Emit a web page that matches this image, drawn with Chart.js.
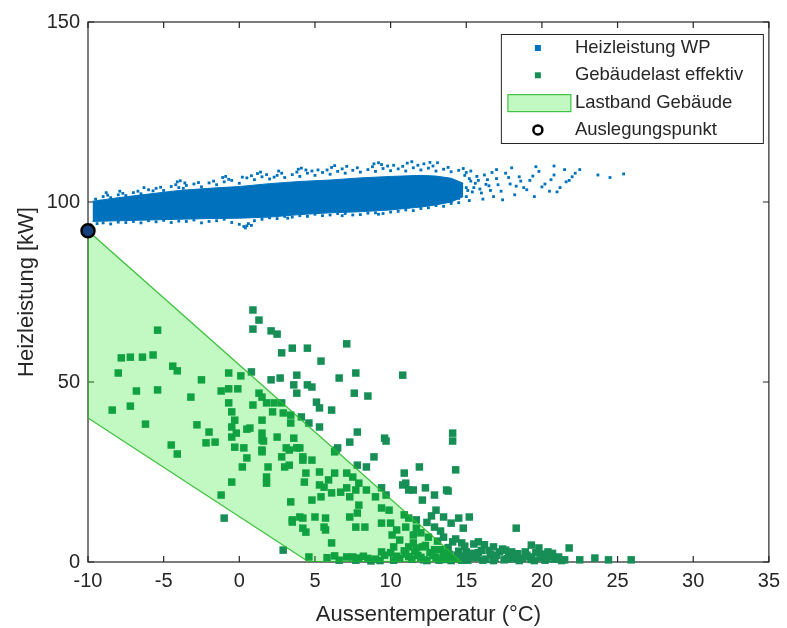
<!DOCTYPE html>
<html>
<head>
<meta charset="utf-8">
<script src="https://cdn.jsdelivr.net/npm/chart.js@4.4.1/dist/chart.umd.min.js"></script>
<style>
  html, body { margin: 0; padding: 0; background: #fff; }
  canvas { display: block; }
</style>
</head>
<body>
<canvas id="heizChart" width="787" height="628"></canvas>
<script>
// Achsen
const xTicks = [-10, -5, 0, 5, 10, 15, 20, 25, 30, 35];
const yTicks = [0, 50, 100, 150];

// Auslegungspunkt der Waermepumpe
const auslegungX = [-10];
const auslegungY = [92];

// Lastband Gebaeude (geschlossenes Polygon)
const lastbandX = [-10, 14.7, 4.6, -10, -10];
const lastbandY = [92, 0, 0, 40, 92];

// Heizleistung WP: dichter Kern als Huellkurve
const heizKernX     = [-9.7, -8, -6, -4, -2, 0, 2, 4, 6, 8, 10, 12, 13, 14, 14.8];
const heizKernOben  = [100.2, 101.2, 102.2, 103.2, 103.8, 104.3, 105.1, 105.7, 106.1, 106.7, 107.1, 107.4, 107.2, 106.6, 105.2];
const heizKernUnten = [94.6, 94.8, 95, 95.2, 95.4, 95.5, 95.8, 96.5, 97, 97.3, 97.8, 98.6, 99.2, 100, 101.5];

// Heizleistung WP: Einzelpunkte am Rand und im Auslauf
const heizPunkte = [
  [-9.5,100.8],[-9,101.5],[-8.5,101.2],[-8,102],[-7.5,101.8],[-7,102.6],[-6.5,102.3],[-6,103.4],
  [-5.5,103.8],[-5,103.2],[-4.5,104.3],[-4,104],[-3.5,104.6],[-3,105],[-2.5,104.2],[-2,105.3],
  [-1.5,104.8],[-1,105.6],[-0.5,106],[0,105.2],[0.5,106.7],[1,106.2],[1.5,107],[2,106.4],
  [2.5,107.4],[3,106.8],[3.5,107.6],[4,107.1],[4.5,108],[5,107.4],[5.5,108.2],[6,107.7],
  [6.5,108.5],[7,108],[7.5,108.8],[8,108.3],[8.5,109],[9,108.5],[9.5,109.3],[10,108.7],
  [10.5,109.2],[11,108.6],[11.5,109.5],[12,108.9],[12.5,109.4],[13,108.6],[13.5,109.1],[14,108.4],
  [14.5,108.8],[15,108.2],
  [-9.2,100.2],[-8.7,101.9],[-7.7,102.4],[-6.7,103],[-5.7,103.1],
  [-5.2,104.1],[-4.2,104.8],[-3.7,103.8],[-2.7,105.4],[-1.7,105.8],
  [-0.7,106.3],[0.8,107.3],[1.8,107.6],[2.3,106.9],
  [2.8,108],[3.8,108.3],[4.8,108.6],[5.8,108.9],
  [6.8,109.2],[7.8,109.5],[8.8,109.8],[9.8,110],
  [10.8,109.9],[11.8,110.2],[12.8,110],[13.8,109.6],
  [14.8,109.3],[15.3,108.6],
  [-4.1,105.6],[-3.9,105.9],[-3.6,105.3],[-1.1,106.8],[-0.9,107.1],[1.2,107.9],[1.4,108.3],
  [3.9,109.1],[4.1,109.4],[4.4,108.9],[6.1,109.6],[6.3,110.1],[8.9,110.6],[9.2,110.9],[9.4,110.4],
  [11.1,110.8],[11.4,111.2],[12.2,110.6],[13.1,110.9],[7.1,109.9],[2.6,108.6],[-6.3,104],[-7.9,103],
  [-8.8,102.6],[0.2,106.9],[5.2,108.9],[10.2,110.2],[12.6,111],
  [-9.8,93.6],[-9,94.2],[-8,94.4],[-7,94.6],[-6,94.8],[-5,94.9],[-4,94.7],[-3,95.0],[-2,94.6],
  [-1,95.2],[0,93.8],[0.3,93.2],[0.6,94.0],[1,94.8],[2,95.6],[3,96.0],[4,96.2],[5,96.6],[6,96.4],
  [7,96.8],[8,96.5],[9,97.0],[10,97.2],[11,97.8],[12,98.2],[13,99],[14,99.6],
  [-9.4,94],[-8.5,93.9],[-7.5,94.3],[-6.5,94.2],[-5.5,94.5],[-4.5,94.3],[-3.5,94.6],[-2.5,94.2],
  [-1.5,94.8],[-0.5,94.3],[0.8,93.5],[1.5,95.2],[2.5,95.4],[3.5,95.8],[4.5,96],[5.5,96.2],
  [6.5,96.8],[7.5,96.4],[8.5,96.9],[9.5,96.8],[10.5,97.4],[11.5,97.6],[12.5,98.4],[13.5,98.8],
  [14.5,99.8],[15.2,100.4],[0.4,92.8],[0.5,93.4],[3.2,95.5],[6.8,96.2],[9.2,96.6],
  [10.5,99.5],[11,99],[11.5,99.8],[12,99.4],[12.5,100],[13,99.6],[13.5,100.4],[14,100.2],[14.5,101],[15,101.5],
  [13.8,103],[14.2,105],[14.6,102.2],[15,104],[15.2,106.5],[15.4,102.8],[15.6,105.2],[15.9,103.6],
  [16.1,100.8],[16.4,106.2],[16.6,103.2],[17.1,104.8],[17.4,100.6],[17.8,106.8],[18.3,104.4],[18.6,105.8],
  [19,103.4],[19.4,107.2],[20,104.2],[20.6,106.2],[21,102.8],[21.6,105.6],[22,107],[17,109],
  [18,109.5],[19.6,109.8],[20.8,110],[22.5,109],
  [14.9,107.4],[15.1,103.2],[15.3,105.8],[14.7,104.1],[15.7,107.1],[16.3,104.9],[16.7,108.2],
  [15.5,104],[15.8,106],[16,102.5],[16.2,107.5],[16.5,104.5],[16.8,101.5],[17,106.5],[17.3,103],
  [17.6,108],[17.9,105],[18.2,102],[18.5,107],[18.8,104],[19.2,106],[19.5,101.5],[19.8,108.5],
  [20.2,105],[20.5,103],[20.8,107.5],[21.2,104],[21.5,109],[21.8,106],[22.2,108],[23.7,107.5],
  [24.5,106.8],[25.4,107.8]
];

// Gebaeudelast effektiv (Stundenwerte)
const gebaeudelast = [
  [-5.4,64.4],[-7.8,56.7],[-7.2,56.9],[-6.4,56.9],[-5.7,57.5],[-8.0,52.5],[-4.4,54.4],[-4.1,53.1],
  [-6.8,47.5],[-5.4,47.8],[-8.4,42.2],[-7.2,43.3],[-6.2,38.3],[-2.5,50.6],[-3.2,45.8],[-2.8,38.1],
  [-2.0,36.1],[-2.2,33.1],[-1.6,33.3],[-4.5,32.5],[-4.1,30.0],[-1.2,18.6],[-1.0,12.2],[-1.2,47.5],
  [-0.7,48.1],[-0.1,48.1],[-0.7,52.5],[-0.5,22.2],[-0.5,37.5],[-0.5,34.7],[-0.2,35.8],[-0.7,44.2],
  [-0.5,41.7],[-0.3,39.4],[-0.3,31.9],
  [0.1,51.7],[0.8,52.8],[0.9,70.0],[1.3,67.2],[0.9,64.7],[2.1,64.2],[2.5,63.3],[2.8,58.1],
  [3.5,59.4],[4.5,59.4],[2.1,50.6],[2.7,51.1],[3.8,51.9],[3.6,49.2],[3.8,46.9],[4.5,49.2],
  [4.8,48.6],[0.9,43.6],[1.3,46.9],[1.5,45.8],[1.8,44.2],[2.3,44.2],[2.8,44.2],[2.2,41.7],
  [2.9,41.4],[1.5,39.4],[3.4,40.8],[4.1,40.3],[4.6,38.6],[5.3,37.5],[3.4,38.6],[0.3,31.7],
  [0.5,28.9],[0.2,26.4],[0.7,37.2],[1.5,35.8],[1.5,33.9],[2.5,34.7],[3.6,34.4],[3.1,31.7],
  [3.8,31.7],[2.8,29.2],[3.0,26.4],[4.2,29.2],[4.8,28.3],[1.5,31.1],[1.9,26.4],[1.8,23.6],
  [1.8,21.9],[3.3,26.9],[4.4,24.7],[4.3,22.2],[3.4,16.7],[4.0,12.5],[3.5,11.1],[4.4,8.3],
  [2.9,3.3],[4.6,1.4],[0.5,36.9],[1.6,33.6],[1.5,30.6],[3.3,31.1],[4.0,31.7],[4.2,28.3],
  [3.5,11.7],[4.2,12.2],[4.2,9.4],
  [5.1,44.4],[5.3,42.8],[6.1,42.2],[5.4,55.8],[6.6,51.1],[7.1,60.6],[7.7,52.5],[7.6,46.9],
  [8.5,46.1],[7.8,36.1],[7.3,33.3],[9.7,33.6],[6.4,31.1],[8.9,29.2],[7.8,26.9],[8.4,26.4],
  [6.3,30.6],[6.5,31.7],[5.3,25.0],[5.9,22.8],[6.3,24.7],[5.3,21.4],[5.6,20.8],[7.5,23.6],
  [7.9,21.9],[8.4,20.0],[9.4,20.6],[9.7,18.6],[7.7,20.0],[7.1,24.7],[7.1,20.6],[6.1,19.2],
  [6.7,19.4],[7.3,18.1],[4.8,17.2],[5.4,18.1],[9.0,18.1],[9.4,15.0],[9.9,14.4],[7.9,15.8],
  [7.8,13.6],[7.3,12.5],[7.7,9.7],[8.3,9.7],[5.0,12.5],[5.7,12.2],[5.6,9.7],[5.7,8.9],
  [6.1,5.3],[7.1,1.4],[7.5,1.4],[7.9,1.1],[8.7,0.3],[9.4,10.8],[10.0,10.8],[9.4,2.8],[9.6,34.4],
  [10.8,51.9],[10.4,8.9],[10.1,7.5],[10.6,6.1],[10.2,4.2],[10.9,13.1],[11.2,12.2],[11.7,11.7],
  [11.7,9.4],[12.0,8.1],[12.5,6.9],[12.1,4.2],[11.7,3.9],[11.2,4.2],[10.9,24.7],[11.0,21.9],
  [11.2,20.0],[11.5,20.0],[11.9,26.4],[12.3,20.6],[12.9,18.6],[12.1,17.2],[13.0,14.4],[13.7,20.0],
  [12.9,9.7],[13.5,6.9],[14.1,5.6],[14.7,5.3],[14.0,10.8],[14.5,12.2],[15.2,12.5],[14.8,9.4],
  [14.1,35.8],[14.1,33.6],[14.3,25.6],[13.8,19.7],[18.3,9.4],[15.8,5.6],[16.8,4.2],[17.6,3.3],
  [18.0,2.8],[19.3,4.7],[19.8,3.9],[20.4,2.8],[21.8,3.9],[22.5,0.6],[23.5,1.1],[24.4,0.6],
  [25.9,0.6],[10.8,21.4],
  [10.6,1.0],[11.0,2.2],[11.4,0.8],[11.8,1.8],[12.2,0.6],[12.6,2.6],[13.0,1.2],[13.3,3.4],
  [13.6,0.7],[13.9,2.1],[14.2,1.0],[14.5,3.0],[14.8,1.6],[15.1,0.5],[15.4,2.4],[15.7,1.2],
  [16.0,3.2],[16.3,0.8],[16.6,2.0],[16.9,1.1],[17.2,2.8],[17.5,0.6],[17.8,1.7],[18.1,0.9],
  [18.4,2.3],[18.7,1.0],[19.0,1.9],[19.3,0.7],[19.6,2.6],[19.9,1.2],[20.2,0.5],[20.5,1.6],
  [20.8,0.8],[21.1,1.4],[21.5,0.6],[9.0,0.8],[9.6,1.9],[10.2,0.5],[8.2,1.6],[6.6,0.5],
  [5.8,1.2],[12.3,4.6],[13.1,5.8],[13.8,4.0],[14.3,6.4],[14.9,4.4],[15.5,5.0],[16.2,4.8],
  [12.9,3.4],[11.5,5.3],[10.9,3.1],[11.5,7.5],[12.4,11.0],[13.3,8.6],[11.0,9.7],[12.7,12.8],
  [13.5,12.5],
  [11.2,1.5],[11.6,2.9],[12.0,1.3],[12.4,0.4],[12.8,1.8],[13.2,0.5],[13.5,2.4],[14.0,0.4],
  [14.4,1.9],[14.7,0.5],[15.0,2.8],[15.3,1.3],[15.8,2.6],[16.1,0.5],[16.5,3.2],[16.8,0.4],
  [17.0,1.9],[17.4,3.6],[17.7,0.9],[18.2,1.8],[18.5,0.4],[18.9,2.8],[19.2,1.4],[19.5,0.4],
  [20.0,2.2],[20.3,1.0],[20.7,2.4],[21.3,0.4],[10.0,2.6],[10.4,1.6],[9.3,0.4],[8.5,1.0],
  [7.7,0.5],[6.3,1.7]
];

const schrift = "'Liberation Sans', Arial, Helvetica, sans-serif";
const textFarbe = '#262626';
const blau = 'rgb(0, 114, 189)';
const gruen = 'rgb(22, 142, 86)';
const bandFuellung = 'rgba(0, 225, 0, 0.24)';
const bandRand = 'rgba(40, 185, 40, 0.85)';

function alsPunkte(xs, ys) {
  return xs.map((x, i) => ({ x: x, y: ys[i] }));
}

// Rahmen mit nach innen zeigenden Ticks
const rahmenPlugin = {
  id: 'rahmen',
  beforeDatasetsDraw(chart) {
    const ctx = chart.ctx;
    const a = chart.chartArea;
    const xs = chart.scales.x;
    const ys = chart.scales.y;
    const tl = 6;
    ctx.save();
    ctx.strokeStyle = textFarbe;
    ctx.lineWidth = 1.2;
    ctx.strokeRect(a.left, a.top, a.right - a.left, a.bottom - a.top);
    ctx.beginPath();
    xTicks.forEach(v => {
      const px = xs.getPixelForValue(v);
      ctx.moveTo(px, a.bottom); ctx.lineTo(px, a.bottom - tl);
      ctx.moveTo(px, a.top); ctx.lineTo(px, a.top + tl);
    });
    yTicks.forEach(v => {
      const py = ys.getPixelForValue(v);
      ctx.moveTo(a.left, py); ctx.lineTo(a.left + tl, py);
      ctx.moveTo(a.right, py); ctx.lineTo(a.right - tl, py);
    });
    ctx.stroke();
    ctx.restore();
  }
};

// Legende oben rechts im Diagramm
const legendePlugin = {
  id: 'legende',
  afterDraw(chart) {
    const ctx = chart.ctx;
    const a = chart.chartArea;
    const w = 262, h = 109;
    const left = a.right - 6 - w;
    const top = a.top + 12;
    const zeile = 27.3;
    const textX = left + 74;
    const symX = left + 37;
    ctx.save();
    ctx.fillStyle = '#fff';
    ctx.fillRect(left, top, w, h);
    ctx.strokeStyle = textFarbe;
    ctx.lineWidth = 1;
    ctx.strokeRect(left + 0.5, top + 0.5, w, h);

    const y0 = top + 14;
    // Heizleistung WP
    ctx.fillStyle = blau;
    ctx.fillRect(symX - 3, y0 - 3, 6, 6);
    // Gebaeudelast effektiv
    ctx.fillStyle = gruen;
    ctx.fillRect(symX - 3, y0 + zeile - 3, 6, 6);
    // Lastband Gebaeude
    ctx.fillStyle = bandFuellung;
    ctx.fillRect(left + 7, y0 + 2 * zeile - 8, 63, 17);
    ctx.strokeStyle = bandRand;
    ctx.lineWidth = 1.2;
    ctx.strokeRect(left + 7, y0 + 2 * zeile - 8, 63, 17);
    // Auslegungspunkt
    ctx.beginPath();
    ctx.arc(symX, y0 + 3 * zeile, 4.5, 0, Math.PI * 2);
    ctx.fillStyle = '#fff';
    ctx.fill();
    ctx.strokeStyle = '#000';
    ctx.lineWidth = 2.5;
    ctx.stroke();

    ctx.fillStyle = textFarbe;
    ctx.font = '18.5px ' + schrift;
    ctx.textBaseline = 'middle';
    ctx.textAlign = 'left';
    ['Heizleistung WP', 'Gebäudelast effektiv', 'Lastband Gebäude', 'Auslegungspunkt'].forEach((t, i) => {
      ctx.fillText(t, textX, y0 + i * zeile);
    });
    ctx.restore();
  }
};

const ctx = document.getElementById('heizChart').getContext('2d');

window.heizChart = new Chart(ctx, {
  type: 'scatter',
  data: {
    datasets: [
      {
        label: 'Auslegungspunkt',
        data: alsPunkte(auslegungX, auslegungY),
        pointStyle: 'circle',
        pointRadius: 6.5,
        backgroundColor: '#14407e',
        borderColor: '#000',
        borderWidth: 2.5,
        clip: false,
        order: 0
      },
      {
        type: 'line',
        label: 'Lastband Gebäude',
        data: alsPunkte(lastbandX, lastbandY),
        showLine: true,
        fill: 'shape',
        tension: 0,
        pointRadius: 0,
        backgroundColor: bandFuellung,
        borderColor: bandRand,
        borderWidth: 1.3,
        order: 1
      },
      {
        label: 'Gebäudelast effektiv',
        data: gebaeudelast.map(p => ({ x: p[0], y: p[1] })),
        pointStyle: 'rect',
        pointRadius: 5.3,
        backgroundColor: gruen,
        borderWidth: 0,
        clip: false,
        order: 2
      },
      {
        label: 'Heizleistung WP',
        data: heizPunkte.map(p => ({ x: p[0], y: p[1] })),
        pointStyle: 'rect',
        pointRadius: 2,
        backgroundColor: blau,
        borderWidth: 0,
        clip: false,
        order: 3
      },
      {
        type: 'line',
        label: 'Heizleistung WP Kern',
        data: alsPunkte(heizKernX, heizKernOben),
        showLine: true,
        fill: '+1',
        tension: 0,
        pointRadius: 0,
        backgroundColor: blau,
        borderColor: blau,
        borderWidth: 1,
        order: 4
      },
      {
        type: 'line',
        label: 'Heizleistung WP Kern unten',
        data: alsPunkte(heizKernX, heizKernUnten),
        showLine: true,
        fill: false,
        tension: 0,
        pointRadius: 0,
        borderColor: blau,
        borderWidth: 1,
        order: 5
      }
    ]
  },
  options: {
    responsive: false,
    animation: false,
    events: [],
    layout: { padding: { top: 22, right: 16, left: 0, bottom: 0 } },
    scales: {
      x: {
        type: 'linear',
        min: -10,
        max: 35,
        afterBuildTicks: s => { s.ticks = xTicks.map(v => ({ value: v })); },
        afterFit: s => { s.height = 66; },
        grid: { display: false, drawTicks: false },
        border: { display: false },
        ticks: {
          padding: 7,
          color: textFarbe,
          font: { family: schrift, size: 20 },
          callback: v => String(v)
        },
        title: {
          display: true,
          text: 'Aussentemperatur (°C)',
          color: textFarbe,
          font: { family: schrift, size: 22 },
          padding: { top: 10, bottom: 0 }
        }
      },
      y: {
        type: 'linear',
        min: 0,
        max: 150,
        afterBuildTicks: s => { s.ticks = yTicks.map(v => ({ value: v })); },
        afterFit: s => { s.width = 88; },
        grid: { display: false, drawTicks: false },
        border: { display: false },
        ticks: {
          padding: 8,
          color: textFarbe,
          font: { family: schrift, size: 20 },
          callback: v => String(v)
        },
        title: {
          display: true,
          text: 'Heizleistung [kW]',
          color: textFarbe,
          font: { family: schrift, size: 22 },
          padding: { top: 14, bottom: 0 }
        }
      }
    },
    plugins: {
      legend: { display: false },
      tooltip: { enabled: false }
    }
  },
  plugins: [rahmenPlugin, legendePlugin]
});
</script>
</body>
</html>
